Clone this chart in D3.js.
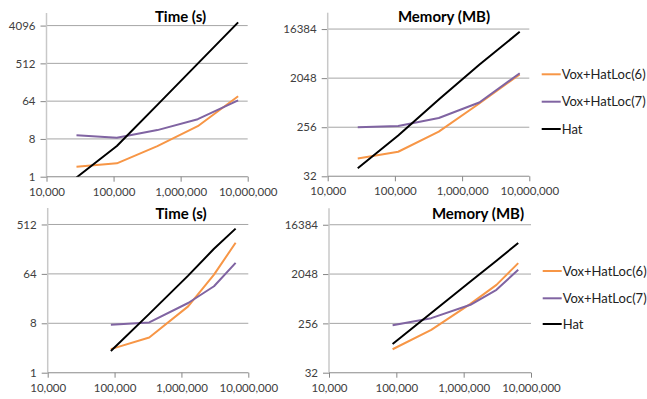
<!DOCTYPE html>
<html>
<head>
<meta charset="utf-8">
<script src="https://cdn.jsdelivr.net/npm/d3@7"></script>
<style>
  body { margin: 0; background: #fff; }
  text { font-family: Lato, "Open Sans", sans-serif; }
</style>
</head>
<body>
<div id="chart"></div>
<script>
const width = 647, height = 399;

// series names and colours
const seriesNames = ["Vox+HatLoc(6)", "Vox+HatLoc(7)", "Hat"];
const seriesColors = ["#f79646", "#8064a2", "#000000"];

// x values (problem size)
const sizesTop = [28000, 112000, 450000, 1800000, 7200000];
const sizesBottom = [88000, 330000, 1260000, 3070000, 6460000];

// top row
const timeTopVox6 = [1.73, 2.09, 5.4, 16.1, 84];
const timeTopVox7 = [9.8, 8.5, 13, 23.7, 67];
const timeTopHat = [0.96, 5.4, 52, 505, 4900];
const memTopVox6 = [68, 90.6, 212, 700, 2400];
const memTopVox7 = [255, 270, 378, 730, 2520];
const memTopHat = [45, 180, 830, 3600, 14600];

// bottom row
const timeBotVox6 = [2.7, 4.4, 16.3, 62, 237];
const timeBotVox7 = [7.5, 8.3, 18.8, 38, 102];
const timeBotHat = [2.5, 11.9, 59.5, 184, 430];
const memBotVox6 = [86, 195, 582, 1300, 3250];
const memBotVox7 = [237, 319, 560, 1056, 2450];
const memBotHat = [107, 397, 1494, 3590, 7590];

// axis ticks
const xTicks = [10000, 100000, 1000000, 10000000];
const timeTicksTop = [1, 8, 64, 512, 4096];
const timeTicksBot = [1, 8, 64, 512];
const memTicks = [32, 256, 2048, 16384];

const panels = [
  { title: "Time (s)", x: sizesTop, series: [timeTopVox6, timeTopVox7, timeTopHat],
    yDomain: [1, 8192], yTicks: timeTicksTop,
    left: 46.5, right: 247.7, top: 13, bottom: 176.7, titleX: 180.5, titleY: 22 },
  { title: "Memory (MB)", x: sizesTop, series: [memTopVox6, memTopVox7, memTopHat],
    yDomain: [32, 32768], yTicks: memTicks,
    left: 327.7, right: 529.3, top: 12.7, bottom: 176.3, titleX: 444, titleY: 22,
    legend: { x: 541.7, rows: [74.3, 101.7, 129] } },
  { title: "Time (s)", x: sizesBottom, series: [timeBotVox6, timeBotVox7, timeBotHat],
    yDomain: [1, 1024], yTicks: timeTicksBot,
    left: 47.7, right: 248.3, top: 208, bottom: 372.7, titleX: 181, titleY: 218.5 },
  { title: "Memory (MB)", x: sizesBottom, series: [memBotVox6, memBotVox7, memBotHat],
    yDomain: [32, 32768], yTicks: memTicks,
    left: 329, right: 531, top: 208.3, bottom: 372.7, titleX: 478, titleY: 218.5,
    legend: { x: 542.7, rows: [271, 298.3, 324] } }
];

const svg = d3.select("#chart")
  .append("svg")
  .attr("width", width)
  .attr("height", height)
  .attr("viewBox", [0, 0, width, height]);

const fmt = d3.format(",");

panels.forEach((p, pi) => {
  const x = d3.scaleLog().domain([1e4, 1e7]).range([p.left, p.right]);
  const y = d3.scaleLog().base(8).domain(p.yDomain).range([p.bottom, p.top]);

  const g = svg.append("g");

  // horizontal gridlines
  g.append("g")
    .selectAll("line")
    .data(p.yTicks)
    .join("line")
    .attr("x1", p.left)
    .attr("x2", p.right)
    .attr("y1", d => y(d))
    .attr("y2", d => y(d))
    .attr("stroke", "#a6a6a6")
    .attr("stroke-width", 1);

  // y axis
  const yAxis = g.append("g")
    .attr("transform", `translate(${p.left},0)`)
    .call(d3.axisLeft(y).tickValues(p.yTicks).tickFormat(d => d).tickSize(6).tickPadding(5));
  yAxis.select(".domain").remove();
  yAxis.append("line")
    .attr("y1", p.top).attr("y2", p.bottom)
    .attr("stroke", "#c8c8c8").attr("stroke-width", 1.5);
  yAxis.selectAll(".tick line").attr("stroke", "#868686");
  yAxis.selectAll(".tick text")
    .attr("fill", "#404040")
    .attr("font-size", 11.5);

  // x axis
  const xAxis = g.append("g")
    .attr("transform", `translate(0,${p.bottom})`)
    .call(d3.axisBottom(x).tickValues(xTicks).tickFormat(fmt).tickSize(5).tickPadding(6));
  xAxis.select(".domain")
    .attr("d", `M${p.left},0H${p.right}`)
    .attr("stroke", "#a6a6a6");
  xAxis.selectAll(".tick line").attr("stroke", "#868686");
  xAxis.selectAll(".tick text")
    .attr("fill", "#404040")
    .attr("font-size", 11.5);

  // title
  g.append("text")
    .attr("x", p.titleX)
    .attr("y", p.titleY)
    .attr("text-anchor", "middle")
    .attr("font-size", 15)
    .attr("font-weight", "bold")
    .attr("fill", "#000")
    .text(p.title);

  // clip to plot area
  const clipId = `clip-${pi}`;
  svg.append("defs").append("clipPath")
    .attr("id", clipId)
    .append("rect")
    .attr("x", p.left)
    .attr("y", p.top)
    .attr("width", p.right - p.left)
    .attr("height", p.bottom - p.top);

  const line = d3.line()
    .x(d => x(d[0]))
    .y(d => y(d[1]));

  g.append("g")
    .attr("clip-path", `url(#${clipId})`)
    .selectAll("path")
    .data(p.series)
    .join("path")
    .attr("d", s => line(s.map((v, i) => [p.x[i], v])))
    .attr("fill", "none")
    .attr("stroke", (s, i) => seriesColors[i])
    .attr("stroke-width", 2)
    .attr("stroke-linejoin", "round");

  if (p.legend) {
    const lg = g.append("g");
    seriesNames.forEach((name, i) => {
      const ly = p.legend.rows[i];
      lg.append("line")
        .attr("x1", p.legend.x)
        .attr("x2", p.legend.x + 19)
        .attr("y1", ly)
        .attr("y2", ly)
        .attr("stroke", seriesColors[i])
        .attr("stroke-width", 2);
      lg.append("text")
        .attr("x", p.legend.x + 20)
        .attr("y", ly)
        .attr("dy", "0.35em")
        .attr("font-size", 13)
        .attr("fill", "#222")
        .text(name);
    });
  }
});
</script>
</body>
</html>
